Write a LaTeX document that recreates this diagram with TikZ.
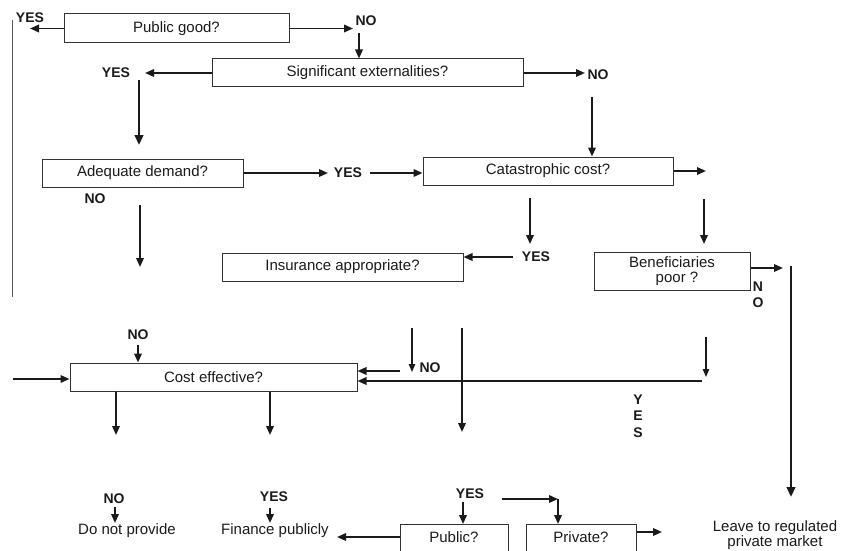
\documentclass[tikz,border=0pt]{standalone}
\usepackage{fontspec}
\setmainfont{Liberation Sans}
\usetikzlibrary{arrows.meta}
\definecolor{ink}{HTML}{1A1A1A}
\definecolor{boxc}{HTML}{333333}
\definecolor{rulec}{HTML}{555555}
\newcommand\regf{\fontsize{15}{14.5}\selectfont}
\newcommand\boldf{\fontsize{14}{16}\selectfont\bfseries}
\begin{document}
\begin{tikzpicture}[x=1pt,y=-1pt,
  box/.style={draw=boxc, line width=1pt, minimum height=28, inner sep=0pt, font=\regf, text=ink},
  lab/.style={font=\boldf, inner sep=0pt, text=ink, align=center},
  txt/.style={font=\regf, inner sep=0pt, align=center, text=ink},
  arr/.style={draw=ink, line width=1.9pt, -{Triangle[length=9pt,width=7.5pt]}},
  thinarr/.style={draw=ink, line width=1.3pt, -{Triangle[length=8pt,width=6.5pt]}},
  thickarr/.style={draw=ink, line width=2.6pt, -{Triangle[length=10pt,width=8.5pt]}},
  rule/.style={draw=rulec, line width=0.9pt}]
\useasboundingbox (0,0) rectangle (847,551);
\clip (0,0) rectangle (847,551);

% question boxes
\node[box, minimum width=225, minimum height=29] (pg) at (176.5,28.5) {Public good?};
\node[box, minimum width=311] (se) at (367.5,73) {Significant externalities?};
\node[box, minimum width=201] (ad) at (142.5,173) {Adequate demand?};
\node[box, minimum width=250] (cc) at (548,171) {Catastrophic cost?};
\node[box, minimum width=241] (ia) at (342.5,267) {Insurance appropriate?};
\node[box, minimum width=156, minimum height=38, align=center] (bp) at (672,271) {Beneficiaries\\ \hspace*{10pt}poor ?};
\node[box, minimum width=287] (ce) at (213.5,377) {Cost effective?};
\node[box, anchor=north, minimum width=108, text height=11, text depth=24, inner ysep=7] (pu) at (454,524) {Public?};
\node[box, anchor=north, minimum width=110, text height=11, text depth=24, inner ysep=7] (pr) at (581,524) {Private?};

% labels
\node[lab] (yes1) at (30,18) {YES};
\node[lab] (no1) at (366,21) {NO};
\node[lab] (yes2) at (116,73) {YES};
\node[lab] (no2) at (598,75) {NO};
\node[lab] (yes3) at (348,173) {YES};
\node[lab] (no3) at (95,199) {NO};
\node[lab] (yes4) at (536,257) {YES};
\node[lab] (no4) at (758,295) {N\\O};
\node[lab] (no5) at (138,335) {NO};
\node[lab] (no6) at (430,368) {NO};
\node[lab, font=\fontsize{14}{16.5}\selectfont\bfseries] (yes5) at (638,416) {Y\\E\\S};
\node[lab] (no7) at (114,499) {NO};
\node[lab] (yes6) at (274,497) {YES};
\node[lab] (yes7) at (470,494) {YES};
\node[txt] (dnp) at (127,531) {Do not provide};
\node[txt] (fin) at (275,531) {Finance publicly};
\node[txt] (leave) at (775,535) {Leave to regulated\\private market};

% free ends
\coordinate (r1) at (12,20); \coordinate (r2) at (12,297);
\coordinate (c1) at (30,28.5);
\coordinate (c2) at (353,28.5);
\coordinate (c3) at (359,33);
\coordinate (c4) at (145,73);
\coordinate (c5a) at (139,80); \coordinate (c5b) at (139,145);
\coordinate (c6) at (585,73);
\coordinate (c7) at (592,97);
\coordinate (c8) at (328,173);
\coordinate (c9) at (370,173);
\coordinate (c10a) at (140,205); \coordinate (c10b) at (140,267);
\coordinate (c11) at (706,171);
\coordinate (c12a) at (530,198); \coordinate (c12b) at (530,244);
\coordinate (c13) at (513,257);
\coordinate (c14a) at (704,199); \coordinate (c14b) at (704,244);
\coordinate (c15) at (783,268);
\coordinate (c16a) at (791,266); \coordinate (c16b) at (791,497);
\coordinate (c17) at (138,345);
\coordinate (c18) at (13,379);
\coordinate (c19a) at (412,328); \coordinate (c19b) at (412,372);
\coordinate (c20) at (400,371);
\coordinate (c21) at (702,381);
\coordinate (c22a) at (706,337); \coordinate (c22b) at (706,377);
\coordinate (c23a) at (462,328); \coordinate (c23b) at (462,432);
\coordinate (c24) at (116,435);
\coordinate (c25) at (270,435);
\coordinate (c26a) at (115,507); \coordinate (c26b) at (115,523);
\coordinate (c27a) at (270,508); \coordinate (c27b) at (270,523);
\coordinate (c28) at (337,537);
\coordinate (c29) at (463,502);
\coordinate (c30a) at (502,499); \coordinate (c30b) at (558,499);
\coordinate (c31) at (662,532);

% connectors
\draw[rule] (r1) -- (r2);
\draw[arr] (pg.west) -- (c1);
\draw[arr] (pg.east) -- (c2);
\draw[arr] (c3) -- (c3 |- se.north);
\draw[arr] (se.west) -- (c4);
\draw[thickarr] (c5a) -- (c5b);
\draw[arr] (se.east) -- (c6);
\draw[arr] (c7) -- (c7 |- cc.north);
\draw[arr] (ad.east |- c8) -- (c8);
\draw[arr] (c9) -- (c9 -| cc.west);
\draw[arr] (c10a) -- (c10b);
\draw[arr] (cc.east) -- (c11);
\draw[arr] (c12a) -- (c12b);
\draw[arr] (c13) -- (c13 -| ia.east);
\draw[arr] (c14a) -- (c14b);
\draw[arr] (bp.east |- c15) -- (c15);
\draw[thickarr] (c16a) -- (c16b);
\draw[arr] (c17) -- (c17 |- ce.north);
\draw[arr] (c18) -- (c18 -| ce.west);
\draw[thinarr] (c19a) -- (c19b);
\draw[arr] (c20) -- (c20 -| ce.east);
\draw[arr] (c21) -- (c21 -| ce.east);
\draw[thinarr] (c22a) -- (c22b);
\draw[arr] (c23a) -- (c23b);
\draw[arr] (c24 |- ce.south) -- (c24);
\draw[arr] (c25 |- ce.south) -- (c25);
\draw[arr] (c26a) -- (c26b);
\draw[arr] (c27a) -- (c27b);
\draw[arr] (pu.west |- c28) -- (c28);
\draw[arr] (c29) -- (c29 |- pu.north);
\draw[arr] (c30a) -- (c30b);
\draw[arr] (c30b) -- (c30b |- pr.north);
\draw[arr] (pr.east |- c31) -- (c31);
\end{tikzpicture}
\end{document}
